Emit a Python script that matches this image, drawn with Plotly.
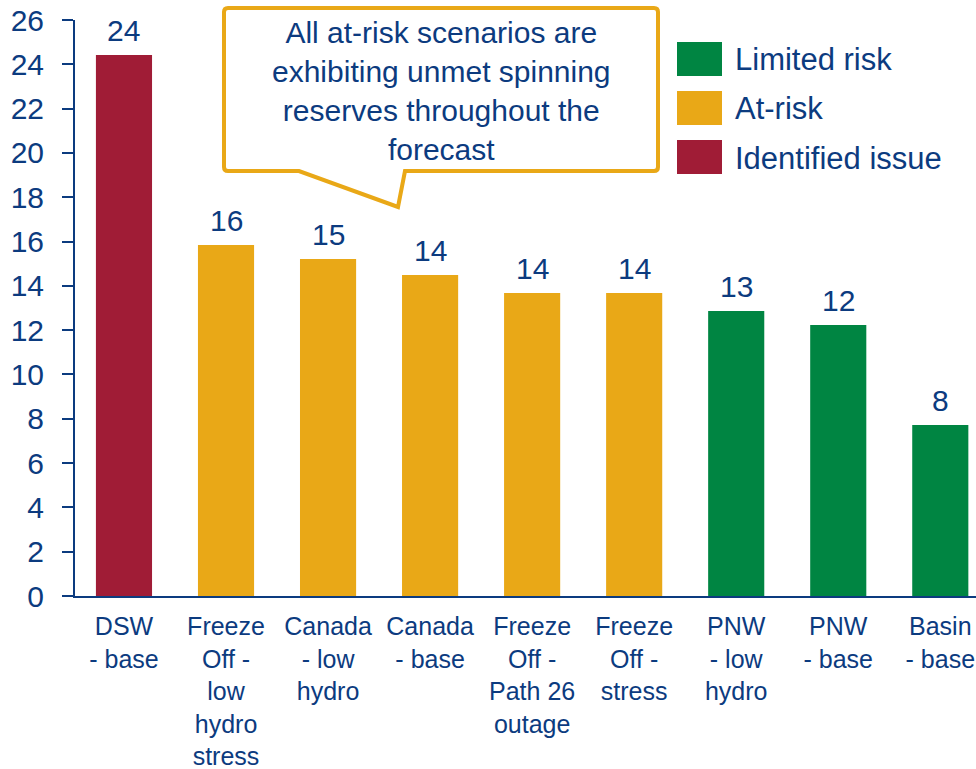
import plotly.graph_objects as go

# Scenario results
categories = [
    "DSW<br>- base",
    "Freeze<br>Off -<br>low<br>hydro<br>stress",
    "Canada<br>- low<br>hydro",
    "Canada<br>- base",
    "Freeze<br>Off -<br>Path 26<br>outage",
    "Freeze<br>Off -<br>stress",
    "PNW<br>- low<br>hydro",
    "PNW<br>- base",
    "Basin<br>- base",
]
values = [24.42, 15.84, 15.21, 14.49, 13.68, 13.68, 12.86, 12.23, 7.72]
risk = ["Identified issue", "At-risk", "At-risk", "At-risk", "At-risk",
        "At-risk", "Limited risk", "Limited risk", "Limited risk"]
legend_labels = ["Limited risk", "At-risk", "Identified issue"]
y_ticks = list(range(0, 27, 2))
callout_text = ("All at-risk scenarios are<br>exhibiting unmet spinning<br>"
                "reserves throughout the<br>forecast")

NAVY = "#0C3B7F"
COLORS = {"Limited risk": "#008542", "At-risk": "#E9A817",
          "Identified issue": "#A01C36"}
FONT = "Liberation Sans, Arial, sans-serif"

W, H = 976, 769
ML, MR, MT, MB = 75, 0, 20, 173
PW, PH = W - ML - MR, H - MT - MB


def px(x):
    return (x - ML) / PW


def py(y):
    return (H - MB - y) / PH


fig = go.Figure()
fig.add_trace(go.Bar(
    x=list(range(len(categories))),
    y=values,
    marker=dict(color=[COLORS[r] for r in risk], line=dict(width=0)),
    width=0.55,
    showlegend=False,
    hoverinfo="skip",
))

# Value labels above bars
for i, v in enumerate(values):
    fig.add_annotation(x=i, y=v, text=f"{round(v)}", showarrow=False,
                       yanchor="bottom", yshift=6,
                       font=dict(size=30, color=NAVY, family=FONT))

# Callout box with pointer
x0, x1, y0, y1 = 224, 658, 8, 171
r = 4
path = (f"M {px(x0 + r)},{py(y0)} L {px(x1 - r)},{py(y0)} "
        f"Q {px(x1)},{py(y0)} {px(x1)},{py(y0 + r)} "
        f"L {px(x1)},{py(y1 - r)} Q {px(x1)},{py(y1)} {px(x1 - r)},{py(y1)} "
        f"L {px(405)},{py(y1)} L {px(398)},{py(207)} L {px(299)},{py(y1)} "
        f"L {px(x0 + r)},{py(y1)} Q {px(x0)},{py(y1)} {px(x0)},{py(y1 - r)} "
        f"L {px(x0)},{py(y0 + r)} Q {px(x0)},{py(y0)} {px(x0 + r)},{py(y0)} Z")
fig.add_shape(type="path", path=path, xref="paper", yref="paper",
              line=dict(color="#E9A817", width=4), fillcolor="white")
fig.add_annotation(x=px(441), y=py(91), xref="paper", yref="paper",
                   text=callout_text, showarrow=False, align="center",
                   xanchor="center", yanchor="middle",
                   font=dict(size=30, color=NAVY, family=FONT))

# Legend swatches
for k, lab in enumerate(legend_labels):
    top = 42 + 49 * k
    fig.add_shape(type="rect", xref="paper", yref="paper",
                  x0=px(677), x1=px(722), y0=py(top + 34), y1=py(top),
                  fillcolor=COLORS[lab], line=dict(width=0))
    fig.add_annotation(x=px(733), y=py(top + 18), xref="paper", yref="paper",
                       text=lab, showarrow=False, xanchor="left",
                       yanchor="middle",
                       font=dict(size=31, color=NAVY, family=FONT))

fig.update_layout(
    width=W, height=H,
    margin=dict(l=ML, r=MR, t=MT, b=MB, pad=0, autoexpand=False),
    plot_bgcolor="white", paper_bgcolor="white",
    font=dict(family=FONT, color=NAVY),
    bargap=0.45,
)
fig.update_xaxes(
    range=[-0.48, 8.35],
    tickmode="array", tickvals=list(range(len(categories))),
    ticktext=categories, tickangle=0,
    tickfont=dict(size=25, color=NAVY, family=FONT),
    showline=True, linecolor=NAVY, linewidth=2,
    ticks="", showgrid=False, zeroline=False,
    ticklabelstandoff=7, automargin=False, ticklabeloverflow="allow",
)
fig.update_yaxes(
    range=[0, 26], tickvals=y_ticks,
    tickfont=dict(size=30, color=NAVY, family=FONT),
    showline=True, linecolor=NAVY, linewidth=2,
    ticks="outside", ticklen=11, tickwidth=2, tickcolor=NAVY,
    showgrid=False, zeroline=False, automargin=False,
    ticklabelstandoff=12,
)

fig.write_html("out.html")
